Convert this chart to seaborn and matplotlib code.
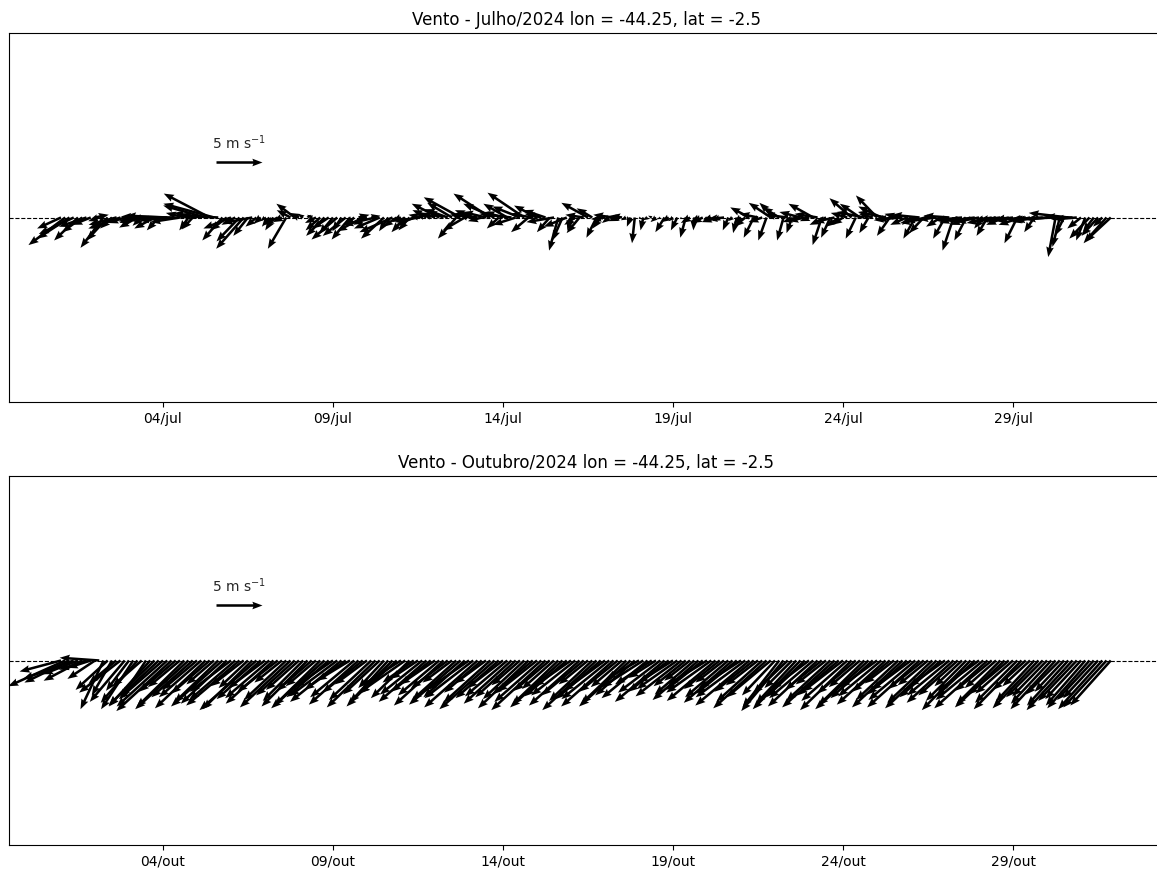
import numpy as np
import pandas as pd
import matplotlib
matplotlib.use('Agg')
import matplotlib.pyplot as plt
import matplotlib.dates as mdates
import seaborn as sns

# 3-hourly wind components (m/s) at lon=-44.25, lat=-2.5, one row per day (00,03,...,21 UTC)
u_jul = [
    -2.6, -4.0, -3.5, -3.8, -2.6, -2.2, -3.0, -2.0,
    1.5, -1.2, -2.5, -2.3, -1.3, -3.0, -3.5, -1.8,
    -0.8, -1.5, -2.0, -1.0, -3.0, -2.6, -2.2, -1.3,
    -3.5, -4.5, -5.5, -4.0, -3.2, -2.0, -1.0, -1.2,
    -2.0, -3.0, -4.6, -5.0, -5.5, -4.0, -2.2, -1.8,
    -3.0, -1.5, -2.5, -3.0, -1.6, -3.2, -1.2, -0.8,
    -0.5, -0.8, -0.9, -1.5, -1.0, -2.0, -1.5, -2.0,
    -1.0, -0.6, 0.4, -0.5, -1.2, -1.6, -2.0, -1.8,
    -1.5, -2.8, -1.0, -2.5, -2.0, -1.0, 1.2, -2.8,
    -1.5, 1.0, -3.5, -2.8, -2.5, -1.0, -3.6, -1.5,
    -1.0, -1.5, -1.2, -2.0, -2.5, -1.5, -1.2, -2.0,
    -1.5, -3.0, -1.8, -2.5, -2.7, -2.0, -4.0, -2.4,
    -1.2, -2.0, -3.0, -1.5, -2.5, -4.0, -3.4, -1.3,
    -2.0, -2.6, -3.5, -2.5, -3.0, -4.0, -1.9, -2.5,
    -2.5, -1.8, -2.4, -1.4, -3.0, -1.0, -1.1, -2.5,
    -0.4, -1.2, -1.4, -2.0, -2.9, -1.7, -1.1, -0.9,
    -1.5, -0.8, -2.2, -1.0, -1.3, -0.6, -0.4, -0.3,
    0.3, -0.3, -0.5, -0.4, -0.6, -0.3, -1.0, -0.8,
    -0.5, -0.7, -0.2, -0.6, -1.0, -0.1, -0.8, -1.2,
    -0.4, -0.9, -1.5, -0.8, -1.8, -0.6, -0.5, -0.4,
    -0.8, -1.2, -2.1, -1.1, -2.0, -1.5, -0.9, -2.4,
    -1.7, -1.8, -0.7, -2.5, -0.6, -1.5, -2.3, -1.8,
    -1.0, -2.7, -2.5, -1.0, -1.8, -1.0, -2.2, -1.4,
    -1.2, -1.8, -2.4, -1.1, -2.2, -3.0, -1.0, -1.5,
    -2.3, -2.5, -3.0, -1.4, -2.2, -1.5, -2.8, -1.8,
    -1.0, -1.3, -3.0, -1.6, -2.5, -3.5, -2.0, -1.6,
    -1.3, -2.8, -1.2, -2.0, -3.0, -1.3, -2.2, -3.0,
    -2.5, -1.0, -1.2, -2.0, -3.2, -2.4, -2.0, -1.5,
    -3.0, -1.4, -2.5, -3.5, -2.0, -1.1, -2.8, -3.5,
    -3.5, -2.8, -0.8, -0.8, -1.0, -4.3, -3.0, -2.5,
    -1.5, -1.0, -2.2, -1.2, -1.8, -1.0, -2.5, -2.8,
]
v_jul = [
    -1.2, -3.0, -2.3, -1.8, -2.5, -1.6, -1.0, -0.8,
    0.3, -0.4, -3.3, -2.5, -1.2, -0.8, -1.2, -0.6,
    -1.0, -0.6, -1.1, -0.9, -0.4, -0.2, -1.2, -1.4,
    -0.1, 0.2, 0.1, -0.3, -0.5, 0.5, -1.4, -1.3,
    0.3, 0.5, 1.3, 2.6, 1.5, 0.2, -2.5, -1.4,
    -1.2, -0.8, -2.6, -3.4, -2.0, -0.6, -1.0, -0.7,
    -0.4, -1.0, -1.4, -0.8, -0.5, -3.4, 0.8, 1.5,
    0.5, 0.4, 0.3, 0.3, -0.6, -1.4, -2.0, -1.2,
    -1.8, -2.4, -1.5, -2.0, -2.4, -0.9, 0.3, -1.5,
    -0.8, 0.2, -0.8, -1.2, -2.3, -1.5, -1.6, -1.0,
    -0.5, -1.6, -1.4, -0.9, -0.5, 0.3, 0.6, 0.8,
    0.5, 1.5, 0.7, 0.9, 1.6, -2.3, 2.2, -1.4,
    0.4, 0.8, 0.3, -0.4, 0.6, 2.6, 1.5, -1.2,
    0.6, 1.5, 0.4, -0.8, 1.2, 2.7, -1.6, 0.4,
    1.3, 0.4, 0.8, -1.6, -0.5, -3.6, -2.5, -1.0,
    -1.4, -0.8, -1.7, 0.3, 1.6, 1.0, -2.2, -1.2,
    -0.2, -0.6, 0.3, -0.4, 0.2, -0.3, -1.0, -2.8,
    -0.2, -1.4, -0.3, 0.2, -0.5, -0.2, -1.6, -0.5,
    -0.4, -1.4, -0.2, -2.2, -0.6, -1.4, -0.4, -0.6,
    -0.2, -0.3, -0.5, -0.4, -0.2, -1.4, -0.4, -1.7,
    -0.6, -1.0, 1.1, -2.2, 0.4, -0.5, -2.5, 1.6,
    1.6, 1.1, -2.5, 0.3, -1.7, -0.5, 0.6, -0.4,
    -0.4, 1.5, 0.4, -3.0, -0.8, -2.2, -0.5, -1.0,
    -0.8, 0.5, 2.1, -2.3, 1.5, 0.6, -1.7, 0.4,
    2.4, 1.2, 0.6, -2.0, -0.3, 0.4, -0.2, -0.8,
    -0.8, -2.3, 0.3, -1.7, -0.4, -0.6, -0.2, -1.0,
    -2.3, 0.2, -3.6, -0.6, -0.3, -2.5, -0.8, -0.4,
    -0.5, -1.2, -2.0, -0.4, -0.6, -0.3, -0.8, -0.3,
    -0.4, -2.8, -0.8, -0.3, -0.5, -1.6, -0.3, -0.2,
    -0.3, -0.2, -4.3, -3.2, -2.0, 0.5, 0.1, -0.2,
    -1.2, -2.5, -2.3, -1.6, -2.0, -1.0, -2.8, -2.6,
]
u_out = [
    -4.5, -6.2, -4.9, -5.5, -3.8, -4.2, -3.0, -2.5,
    -3.0, -4.3, -2.5, -3.5, -2.2, -3.0, -4.5, -3.8,
    -2.5, -3.5, -4.0, -3.2, -2.8, -4.5, -5.0, -4.2,
    -4.8, -5.5, -6.0, -4.0, -3.5, -5.2, -5.8, -4.5,
    -3.8, -4.6, -5.5, -4.2, -3.0, -4.8, -5.6, -5.0,
    -4.5, -5.0, -5.8, -3.6, -3.2, -5.4, -6.2, -4.8,
    -4.0, -4.8, -5.2, -4.4, -3.0, -4.6, -5.5, -4.2,
    -3.6, -4.4, -5.0, -3.8, -3.3, -5.0, -5.8, -4.6,
    -4.2, -5.2, -5.6, -4.5, -3.6, -4.8, -5.4, -4.4,
    -3.5, -4.6, -5.3, -4.0, -2.8, -4.2, -5.0, -4.0,
    -4.4, -5.0, -4.2, -3.4, -3.0, -4.6, -5.2, -4.3,
    -3.8, -4.5, -5.4, -4.0, -3.2, -4.8, -5.6, -4.5,
    -4.6, -5.3, -5.8, -4.1, -3.4, -5.1, -6.0, -4.7,
    -3.9, -4.6, -5.2, -4.4, -3.1, -4.5, -5.5, -4.4,
    -4.3, -5.1, -5.9, -3.9, -3.5, -5.0, -5.7, -4.6,
    -4.0, -4.8, -5.5, -4.6, -3.2, -4.7, -5.9, -4.9,
    -4.5, -5.2, -5.7, -4.2, -3.4, -4.9, -5.6, -4.3,
    -3.6, -4.5, -5.0, -4.0, -3.0, -4.6, -5.4, -4.4,
    -3.8, -4.4, -5.0, -3.5, -2.8, -4.3, -5.0, -4.0,
    -4.2, -4.9, -5.3, -3.9, -3.1, -4.7, -5.3, -4.4,
    -4.6, -5.4, -5.9, -4.3, -3.5, -5.0, -5.8, -4.8,
    -3.6, -4.0, -4.6, -3.8, -3.0, -4.4, -5.2, -4.2,
    -4.1, -4.8, -5.4, -4.0, -3.3, -4.8, -5.7, -4.5,
    -4.4, -5.0, -5.6, -4.2, -3.4, -5.0, -5.8, -4.6,
    -4.0, -4.7, -5.3, -4.1, -3.2, -4.6, -5.5, -4.3,
    -4.3, -5.1, -5.7, -3.9, -3.3, -4.9, -5.6, -4.5,
    -3.9, -4.6, -5.1, -4.3, -3.0, -4.4, -5.3, -4.2,
    -4.5, -5.2, -5.8, -4.0, -3.4, -4.8, -5.4, -4.4,
    -4.1, -4.6, -5.2, -3.6, -3.0, -4.2, -5.0, -4.0,
    -3.8, -4.4, -4.9, -3.7, -3.2, -4.5, -5.0, -4.2,
    -3.9, -4.3, -4.6, -4.0, -3.8, -4.8, -4.7, -4.4,
]
v_out = [
    -1.2, -2.8, -2.4, -2.0, -1.5, -2.2, -1.0, -0.8,
    -2.0, 0.3, -5.3, -3.2, -3.8, -2.5, -3.5, -4.5,
    -3.3, -5.3, -4.6, -2.8, -4.2, -5.0, -4.9, -3.9,
    -4.2, -5.0, -5.5, -3.4, -2.9, -5.1, -5.3, -4.0,
    -3.2, -4.0, -5.2, -3.6, -2.6, -4.6, -5.0, -4.7,
    -3.4, -4.3, -4.9, -2.8, -3.0, -5.3, -5.4, -4.2,
    -3.0, -4.1, -4.7, -3.4, -2.4, -4.3, -5.1, -3.8,
    -3.2, -4.4, -5.0, -3.3, -2.8, -4.9, -5.2, -4.0,
    -2.9, -3.9, -4.5, -3.2, -2.2, -4.0, -4.8, -3.5,
    -2.6, -4.3, -5.1, -3.7, -3.0, -4.6, -5.0, -3.6,
    -2.8, -3.5, -4.1, -2.4, -2.0, -3.7, -4.5, -3.4,
    -2.6, -3.8, -4.9, -3.0, -2.4, -4.3, -4.8, -4.0,
    -3.2, -4.1, -5.1, -3.5, -2.5, -4.6, -5.3, -4.1,
    -3.0, -3.9, -4.7, -4.0, -2.7, -4.2, -5.2, -3.7,
    -3.4, -4.5, -5.4, -3.3, -3.1, -4.8, -5.1, -3.9,
    -2.8, -3.8, -4.9, -3.8, -2.6, -4.4, -5.4, -4.2,
    -3.3, -4.2, -5.0, -3.4, -2.9, -4.7, -5.0, -3.8,
    -2.0, -2.9, -4.1, -2.6, -1.9, -3.5, -4.5, -3.4,
    -2.4, -3.1, -3.9, -2.8, -2.2, -3.7, -4.3, -3.2,
    -2.6, -3.5, -4.4, -3.1, -2.4, -4.0, -4.6, -3.6,
    -3.0, -4.0, -4.9, -3.4, -2.7, -4.5, -5.2, -4.0,
    -3.8, -5.1, -5.5, -3.6, -3.0, -4.7, -5.3, -4.0,
    -3.1, -4.1, -5.0, -3.2, -2.6, -4.4, -5.1, -3.8,
    -3.4, -4.4, -5.4, -3.6, -2.9, -4.9, -5.3, -4.1,
    -2.9, -3.9, -4.8, -3.4, -2.5, -4.3, -5.1, -3.7,
    -3.2, -4.3, -5.1, -3.1, -2.7, -4.6, -5.2, -4.0,
    -2.8, -3.8, -4.6, -3.8, -2.8, -4.4, -5.4, -3.9,
    -3.3, -4.3, -5.2, -3.3, -3.0, -4.8, -5.1, -3.7,
    -3.6, -4.6, -5.3, -3.2, -2.8, -4.5, -5.2, -4.0,
    -3.9, -4.7, -5.3, -3.7, -3.4, -4.9, -5.4, -4.4,
    -4.2, -4.9, -5.2, -4.3, -4.1, -5.3, -5.1, -4.9,
]

months = ['2024-07-01', '2024-10-01']
month_abbr = ['jul', 'out']
titles = ['Vento - Julho/2024 lon = -44.25, lat = -2.5',
          'Vento - Outubro/2024 lon = -44.25, lat = -2.5']
tick_days = [4, 9, 14, 19, 24, 29]
key_speed = 5

sns.set_style('ticks')
plt.rcParams['font.family'] = ['DejaVu Sans']

fig = plt.figure(figsize=(11.57, 8.69), dpi=100)
W, H = 1157, 869
positions = [[9 / W, 1 - 402 / H, 1154 / W, 369 / H],
             [9 / W, 1 - 845 / H, 1154 / W, 369 / H]]

for start, abbr, title, uu, vv, pos in zip(months, month_abbr, titles,
                                          [u_jul, u_out], [v_jul, v_out], positions):
    ax = fig.add_axes(pos)
    times = pd.date_range(start, periods=len(uu), freq='3h')
    x = mdates.date2num(times)
    t0 = mdates.date2num(pd.Timestamp(start))
    ax.axhline(0, color='k', ls='--', lw=0.8, zorder=1)
    q = ax.quiver(x, np.zeros(len(uu)), uu, vv, angles='uv',
                  scale_units='inches', scale=10.87, width=0.0022,
                  headwidth=3, headlength=4, headaxislength=3.6,
                  color='k', zorder=2)
    ax.quiverkey(q, 0.1993, 0.65, key_speed, r'5 m s$^{-1}$', labelpos='N',
                 coordinates='axes', fontproperties={'size': 10})
    ax.set_xlim(t0 - 1.529, t0 + 32.41)
    ax.set_ylim(-1, 1)
    ax.set_yticks([])
    ticks = [t0 + d - 1 for d in tick_days]
    ax.set_xticks(ticks)
    ax.set_xticklabels([f'{d:02d}/{abbr}' for d in tick_days])
    ax.tick_params(axis='x', labelsize=10, colors='k', length=3.5, width=0.8)
    for s in ax.spines.values():
        s.set_color('k')
        s.set_linewidth(0.8)
    ax.set_title(title, fontsize=12, color='k')

fig.savefig('out.png', dpi=100)
